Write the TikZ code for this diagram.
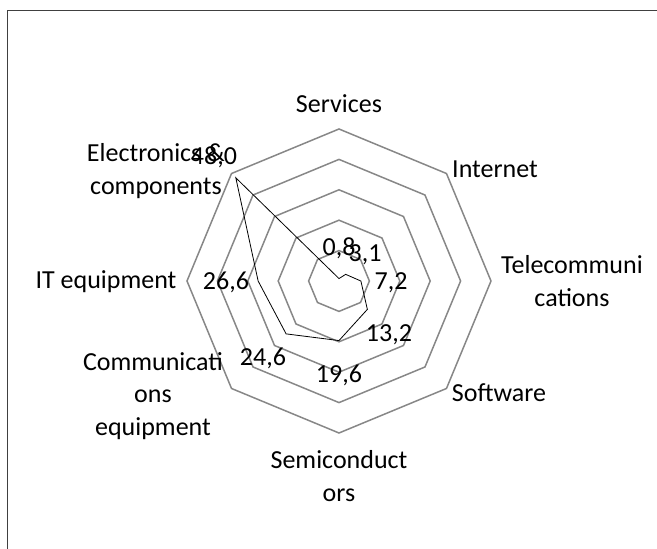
\documentclass[tikz,border=0pt]{standalone}
\usepackage{fontspec}
\setmainfont{Carlito}
\usepackage{tikz}

\tikzset{
  ring/.style={draw=black!47, line width=1.5pt, line join=miter},
  series/.style={draw=black, line width=0.8pt},
  cat/.style={inner sep=0pt, align=center, font=\fontsize{26}{32.5}\selectfont},
  val/.style={inner sep=0pt, font=\fontsize{26}{32.5}\selectfont}
}

\begin{document}
\begin{tikzpicture}[x=1pt, y=1pt]
        \useasboundingbox (-339,-268) rectangle (318,281);
        \clip (-339,-268) rectangle (318,281);
        \draw[black!75, line width=0.9pt] (330,271) -- (-331.5,271) -- (-331.5,-280); % frame
        % rings 10 to 50
        \draw[ring] (90:30.4) -- (45:30.4) -- (0:30.4) -- (-45:30.4) -- (-90:30.4) -- (-135:30.4) -- (180:30.4) -- (135:30.4) -- cycle;
        \draw[ring] (90:60.8) -- (45:60.8) -- (0:60.8) -- (-45:60.8) -- (-90:60.8) -- (-135:60.8) -- (180:60.8) -- (135:60.8) -- cycle;
        \draw[ring] (90:91.2) -- (45:91.2) -- (0:91.2) -- (-45:91.2) -- (-90:91.2) -- (-135:91.2) -- (180:91.2) -- (135:91.2) -- cycle;
        \draw[ring] (90:121.6) -- (45:121.6) -- (0:121.6) -- (-45:121.6) -- (-90:121.6) -- (-135:121.6) -- (180:121.6) -- (135:121.6) -- cycle;
        \draw[ring] (90:152) -- (45:152) -- (0:152) -- (-45:152) -- (-90:152) -- (-135:152) -- (180:152) -- (135:152) -- cycle;
        % data points
        \coordinate (pServ) at (90:2.43);
        \coordinate (pInt) at (45:9.42);
        \coordinate (pTel) at (0:21.89);
        \coordinate (pSoft) at (-45:40.13);
        \coordinate (pSemi) at (-90:59.58);
        \coordinate (pComm) at (-135:74.78);
        \coordinate (pIT) at (180:80.86);
        \coordinate (pElec) at (135:145.92);
        \draw[series] (pServ) -- (pInt) -- (pTel) -- (pSoft) -- (pSemi) -- (pComm) -- (pIT) -- (pElec) -- cycle;
        % categories
        \node[cat] (services) at (0,177) {Services};
        \node[cat] (internet) at (156,112) {Internet};
        \node[cat] (telecom) at (233,0) {Telecommuni\\cations};
        \node[cat] (software) at (160,-112) {Software};
        \node[cat] (semi) at (0,-195) {Semiconduct\\ors};
        \node[cat] (commeq) at (-186,-115) {Communicati\\ons\\equipment};
        \node[cat] (iteq) at (-233,-1) {IT equipment};
        \node[cat] (elec) at (-183,110) {Electronics \&\\components};
        % values
        \node[val] (vServ) at (0,33) {0,8};
        \node[val] (vInt) at (26,26) {3,1};
        \node[val] (vTel) at (52,-2) {7,2};
        \node[val] (vSoft) at (50,-54) {13,2};
        \node[val] (vSemi) at (0,-94) {19,6};
        \node[val] (vComm) at (-76,-77) {24,6};
        \node[val] (vIT) at (-113,-1) {26,6};
        \node[val] (vElec) at (-125,124) {48,0};
    \end{tikzpicture}
\end{document}
